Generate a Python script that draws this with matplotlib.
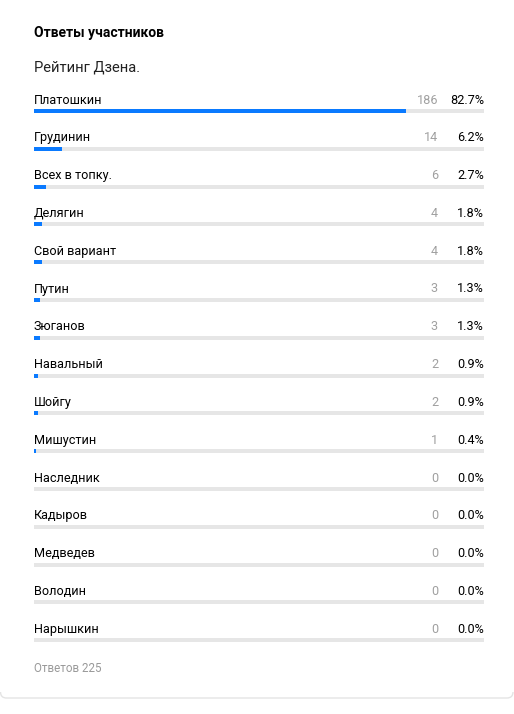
import matplotlib.pyplot as plt
from matplotlib.patches import FancyBboxPatch, Rectangle

plt.rcParams["font.family"] = ["Roboto", "DejaVu Sans"]

title = "Ответы участников"
question = "Рейтинг Дзена."
options = ["Платошкин", "Грудинин", "Всех в топку.", "Делягин", "Свой вариант",
           "Путин", "Зюганов", "Навальный", "Шойгу", "Мишустин", "Наследник",
           "Кадыров", "Медведев", "Володин", "Нарышкин"]
votes = [186, 14, 6, 4, 4, 3, 3, 2, 2, 1, 0, 0, 0, 0, 0]
percents = [82.7, 6.2, 2.7, 1.8, 1.8, 1.3, 1.3, 0.9, 0.9, 0.4, 0.0, 0.0, 0.0, 0.0, 0.0]
total = 225

W, H = 514, 714
fig = plt.figure(figsize=(W / 100, H / 100), dpi=100)
ax = fig.add_axes([0, 0, 1, 1])
ax.set_xlim(0, W)
ax.set_ylim(H, 0)
ax.axis("off")

# card outline: only the bottom edge and its rounded corners are visible
card = FancyBboxPatch((0.5, -20), 512.5, 718, boxstyle="round,pad=0,rounding_size=6",
                      fc="none", ec="#e4e4e4", lw=1.0)
ax.add_patch(card)
clip = Rectangle((0, 692), W, 20, transform=ax.transData)
card.set_clip_path(clip)

left, right = 34, 484
track_w = right - left
row0, step = 100, 37.8

ax.text(left, 33, title, fontsize=10, fontweight="bold", color="#000000", va="center")
ax.text(left, 68, question, fontsize=10.6, color="#222222", va="center")

for i, (name, v, p) in enumerate(zip(options, votes, percents)):
    y = row0 + step * i
    ax.text(left, y, name, fontsize=9.1, color="#000000", va="center")
    ax.text(438, y, str(v), fontsize=9.1, color="#a0a0a0", va="center", ha="right")
    ax.text(right, y, f"{p:.1f}%", fontsize=9.1, color="#000000", va="center", ha="right")
    by = y + 11
    ax.barh(by, track_w, height=4, left=left, color="#e6e6e6", align="center")
    if v > 0:
        ax.barh(by, max(track_w * p / 100, 2), height=4, left=left, color="#0a7aff",
                align="center")

ax.text(left, 669, f"Ответов {total}", fontsize=8.4, color="#999999", va="center")

fig.savefig("out.png", dpi=100)
